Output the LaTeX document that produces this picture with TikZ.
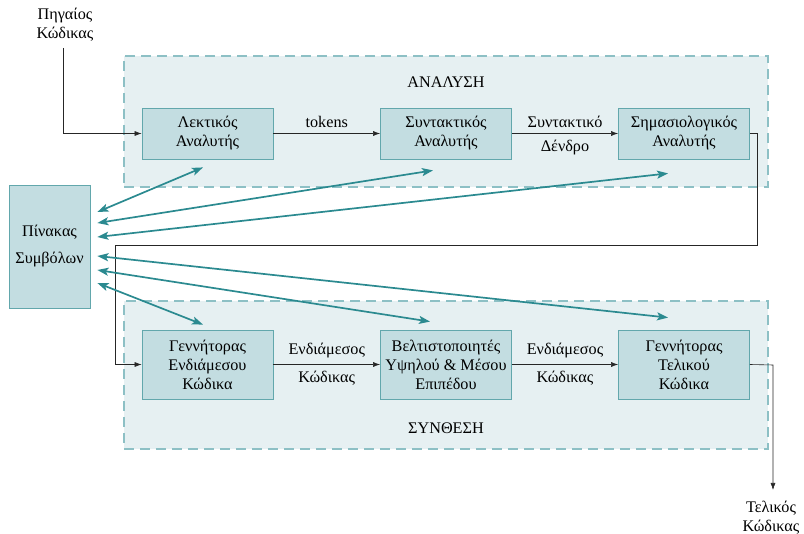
\documentclass[tikz,border=0pt]{standalone}
\usepackage{fontspec}
\setmainfont{Liberation Serif}
\usetikzlibrary{arrows.meta,calc}
\definecolor{clusterfill}{HTML}{E6F0F2}
\definecolor{clusterline}{HTML}{8DC0C5}
\definecolor{boxfill}{HTML}{C3DDE1}
\definecolor{boxline}{HTML}{62A7AC}
\definecolor{linkteal}{HTML}{2B8A90}
\begin{document}
\begin{tikzpicture}[x=1pt,y=-1pt,
  font=\fontsize{16.2}{19}\selectfont,
  cluster/.style={draw=clusterline, fill=clusterfill, dash pattern=on 10pt off 6pt,
    line width=1.6pt, anchor=north west},
  stage/.style={draw=boxline, fill=boxfill, line width=0.8pt, align=center, inner sep=0pt},
  flow/.style={-{Latex[length=7pt,width=5pt]}, line width=0.6pt, draw=black!85},
  link/.style={{Stealth[length=11pt,width=8pt,inset=2.5pt]}-{Stealth[length=11pt,width=8pt,inset=2.5pt]},
    line width=1.7pt, draw=linkteal},
  lbl/.style={align=center, inner sep=0pt}]
\useasboundingbox (0,0) rectangle (804,534);

% the two phases
\node[cluster, minimum width=644, minimum height=131] (ana) at (123,55) {};
\node[cluster, minimum width=644, minimum height=148] (synth) at (123,300) {};
\node[lbl] (anah) at (446,82) {ΑΝΑΛΥΣΗ};
\node[lbl] (synh) at (446,428) {ΣΥΝΘΕΣΗ};

% stages
\node[stage, minimum width=131, minimum height=51] (lex) at (207.5,133.5) {Λεκτικός\\Αναλυτής};
\node[stage, minimum width=131, minimum height=51] (syn) at (446,133.5) {Συντακτικός\\Αναλυτής};
\node[stage, minimum width=131, minimum height=51] (sem) at (684,133.5) {Σημασιολογικός\\Αναλυτής};
\node[stage, minimum width=131, minimum height=69] (gen) at (207.5,364.5) {Γεννήτορας\\Ενδιάμεσου\\Κώδικα};
\node[stage, minimum width=131, minimum height=69] (opt) at (446,364.5) {Βελτιστοποιητές\\Υψηλού \& Μέσου\\Επιπέδου};
\node[stage, minimum width=131, minimum height=69] (fin) at (684,364.5) {Γεννήτορας\\Τελικού\\Κώδικα};
\node[stage, minimum width=81, minimum height=123] (sym) at (49.5,246.5) {Πίνακας\\[8pt]Συμβόλων};

% input and output
\node[lbl] (src) at (65,25) {Πηγαίος\\Κώδικας};
\node[lbl] (tgt) at (771,518) {Τελικός\\Κώδικας};
\coordinate (srcend) at (63,48);
\coordinate (loopR) at (757,245);
\coordinate (loopL) at (115,245);
\coordinate (outR) at (773,365);
\coordinate (outEnd) at (773,490);

% main flow
\draw[flow] (srcend) |- (lex.west);
\draw[flow] (lex) -- node[lbl, above=6pt]{tokens} (syn);
\draw[flow] (syn) -- node[lbl, above=6pt]{Συντακτικό} node[lbl, below=6pt]{Δένδρο} (sem);
\draw[flow] (sem.east) -| (loopR) -- (loopL) |- (gen.west);
\draw[flow] (gen) -- node[lbl, above=6pt]{Ενδιάμεσος} node[lbl, below=6pt]{Κώδικας} (opt);
\draw[flow] (opt) -- node[lbl, above=6pt]{Ενδιάμεσος} node[lbl, below=6pt]{Κώδικας} (fin);
\draw[flow] (fin.east) -- (outR) -- (outEnd);

% symbol table accesses
\draw[link] ($(sym.east)+(7,-34.5)$) -- ($(lex.south)+(-4.5,8)$);
\draw[link] ($(sym.east)+(7,-23.5)$) -- ($(syn.south)+(-13,11)$);
\draw[link] ($(sym.east)+(7,-9.5)$) -- ($(sem.south)+(-16,14)$);
\draw[link] ($(sym.east)+(7,9.5)$) -- ($(fin.north)+(-16,-12)$);
\draw[link] ($(sym.east)+(7,23.5)$) -- ($(opt.north)+(-16,-8)$);
\draw[link] ($(sym.east)+(7,36.5)$) -- ($(gen.north)+(-4.5,-5)$);
\end{tikzpicture}
\end{document}
